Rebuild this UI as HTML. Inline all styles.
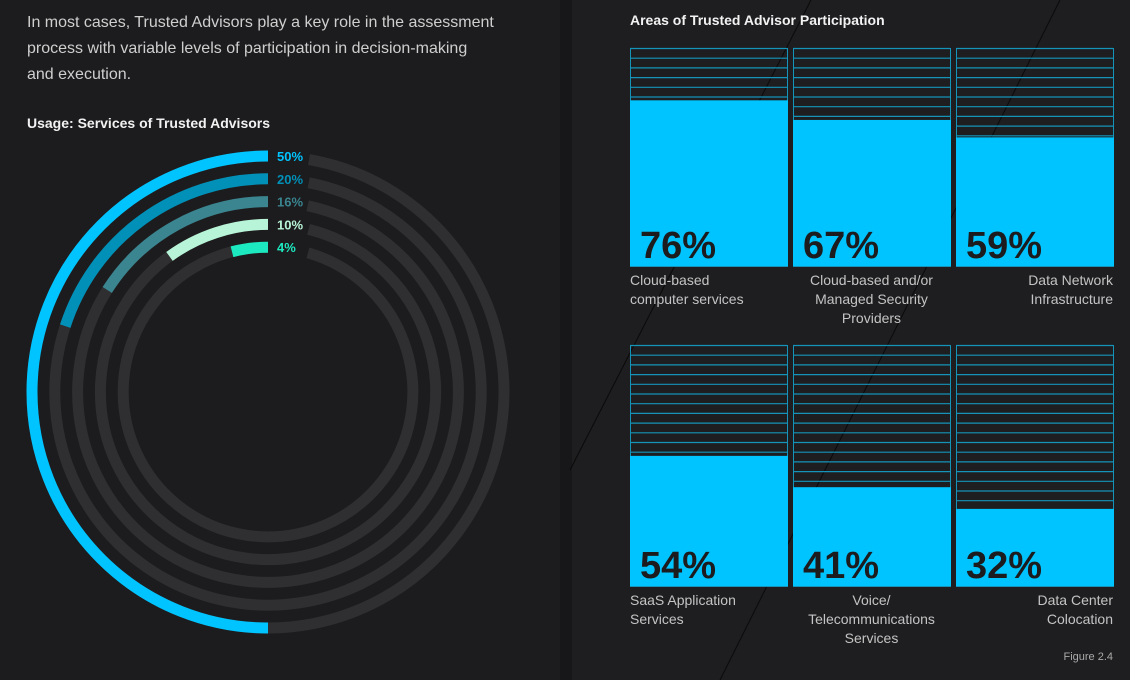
<!DOCTYPE html>
<html><head><meta charset="utf-8"><style>
body{margin:0;width:1130px;height:680px;overflow:hidden;background:#1c1b1d;font-family:"Liberation Sans",sans-serif;position:relative}
.abs{position:absolute}
.intro{left:27px;top:10px;width:470px;color:#cfcfcf;font-size:16px;line-height:26px;font-weight:300}
.h{color:#f2f2f2;font-weight:bold;font-size:14px}
.lbl{color:#c4c4c4;font-size:14px;line-height:19px;width:158px}
</style></head><body>
<div class="abs" style="left:570px;top:0;width:560px;height:680px;background:#1e1d1f"></div>
<div class="abs" style="left:560px;top:0;width:12px;height:680px;background:#171618"></div>
<svg class="abs" style="left:0;top:0" width="1130" height="680">
<line x1="811" y1="0" x2="570" y2="470" stroke="#0a0a0a" stroke-width="1"/>
<line x1="1060" y1="0" x2="720" y2="680" stroke="#0a0a0a" stroke-width="1"/>
</svg>
<div class="abs intro">In most cases, Trusted Advisors play a key role in the assessment process with variable levels of participation in decision-making and execution.</div>
<div class="abs h" style="left:27px;top:115px">Usage: Services of Trusted Advisors</div>
<div class="abs h" style="left:630px;top:12px">Areas of Trusted Advisor Participation</div>
<svg id="radial" class="abs" style="left:0;top:0" width="560" height="680"></svg>
<svg id="bars" class="abs" style="left:0;top:0" width="1130" height="680"></svg>
<div class="abs" style="right:17px;top:651px;color:#aaa;font-size:11px">Figure 2.4</div>
<script>
const ringValues=[50,20,16,10,4];
const ringColors=['#00c4ff','#0090b8','#3a8590','#b8f5d8','#1de9c0'];
const barValues=[76,67,59,54,41,32];
const barLabels=[["Cloud-based","computer services"],["Cloud-based and/or","Managed Security","Providers"],["Data Network","Infrastructure"],["SaaS Application","Services"],["Voice/","Telecommunications","Services"],["Data Center","Colocation"]];
const NS='http://www.w3.org/2000/svg';
function mk(p,t,a){const e=document.createElementNS(NS,t);for(const k in a)e.setAttribute(k,a[k]);p.appendChild(e);return e;}
const R=document.getElementById('radial');const cx=268,cy=392;
function pt(r,deg){const a=deg*Math.PI/180;return [cx+r*Math.sin(a),cy-r*Math.cos(a)];}
function arc(r,a0,a1){const p0=pt(r,a0),p1=pt(r,a1);const large=Math.abs(a1-a0)>180?1:0;const sweep=a1>a0?1:0;return `M${p0[0]} ${p0[1]} A${r} ${r} 0 ${large} ${sweep} ${p1[0]} ${p1[1]}`;}
ringValues.forEach((v,i)=>{const r=236-i*22.8;
const gap=[10,11,12,14,16][i];
const t=mk(R,'path',{d:arc(r,gap,359.9),fill:'none',stroke:'#2f2e30','stroke-width':11});


const a=mk(R,'path',{d:arc(r,0,-v*3.6),fill:'none',stroke:ringColors[i],'stroke-width':11});


const tx=mk(R,'text',{x:277,y:cy-r+5,fill:ringColors[i],'font-size':13,'font-weight':'bold','font-family':'Liberation Sans, sans-serif'});
tx.textContent=v+'%';


});
const B=document.getElementById('bars');
const xs=[630,793,956],rows=[[48,266],[345,586]];
barValues.forEach((v,i)=>{const x=xs[i%3],w=157;const [top,bot]=rows[Math.floor(i/3)];const h=bot-top;
const g=mk(B,'g',{});


mk(g,'rect',{x:x+.5,y:top+.5,width:w,height:h,fill:'none',stroke:'#1593b8'});
for(let y=top;y<bot;y+=9.7)mk(g,'line',{x1:x,x2:x+w,y1:y+.5,y2:y+.5,stroke:'#1593b8','stroke-width':1.2});
const fy=bot-h*v/100;
mk(g,'rect',{x:x,y:fy,width:w+1,height:bot-fy,fill:'#00c4ff'});
const t=mk(g,'text',{x:x+10,y:bot-8,fill:'#1c1b1d','font-size':38,'font-weight':'bold','font-family':'Liberation Sans, sans-serif'});
t.textContent=v+'%';
const col=i%3;const anchor=['start','middle','end'][col];const lx=[x,x+w/2,x+w][col];
barLabels[i].forEach((s,j)=>{const l=mk(B,'text',{x:lx,y:bot+19+j*19,fill:'#c4c4c4','font-size':14,'text-anchor':anchor,'font-family':'Liberation Sans, sans-serif'});l.textContent=s;

});
});
</script>
</body></html>
